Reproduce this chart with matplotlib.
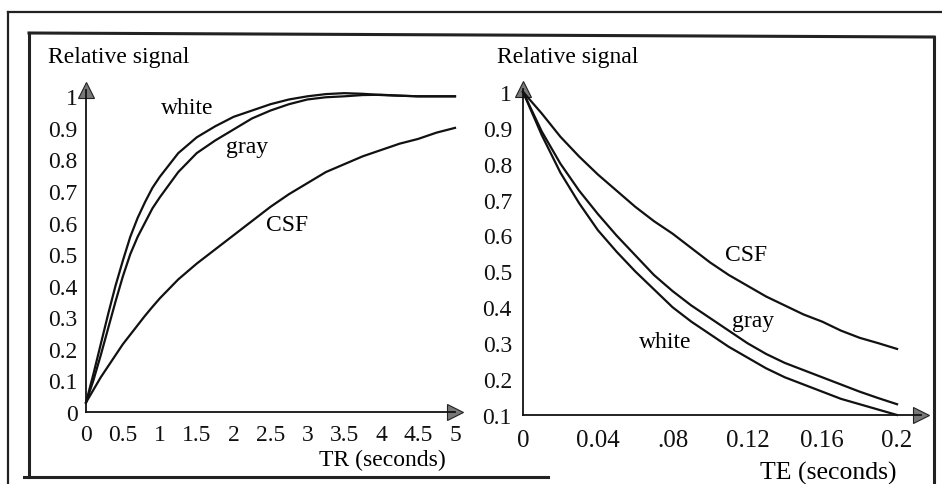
import numpy as np
import matplotlib
matplotlib.use('Agg')
import matplotlib.pyplot as plt
from matplotlib.lines import Line2D

plt.rcParams['font.family'] = ['Liberation Serif', 'DejaVu Serif']

# T1 recovery (left panel)
tr = [0, 0.1, 0.2, 0.3, 0.4, 0.5, 0.6, 0.7, 0.8, 0.9, 1.0,
      1.25, 1.5, 1.75, 2.0, 2.25, 2.5, 2.75, 3.0, 3.25, 3.5, 3.75, 4.0, 4.25, 4.5, 4.75, 5.0]
t1_white = [0.03, 0.12, 0.215, 0.31, 0.40, 0.48, 0.555, 0.615, 0.665, 0.71, 0.745,
            0.82, 0.87, 0.905, 0.935, 0.955, 0.975, 0.99, 1.0, 1.007, 1.01, 1.008, 1.004, 1.002, 1.0, 1.0, 1.0]
t1_gray = [0.03, 0.10, 0.18, 0.265, 0.35, 0.43, 0.50, 0.555, 0.60, 0.645, 0.68,
           0.76, 0.82, 0.86, 0.895, 0.93, 0.955, 0.975, 0.99, 0.997, 1.0, 1.004, 1.005, 1.002, 1.0, 1.0, 1.0]
t1_csf = [0.03, 0.07, 0.11, 0.145, 0.18, 0.215, 0.245, 0.275, 0.305, 0.333, 0.36,
          0.42, 0.47, 0.515, 0.56, 0.605, 0.65, 0.69, 0.725, 0.76, 0.785, 0.81, 0.83, 0.85, 0.865, 0.885, 0.90]

# T2 decay (right panel)
te = [0, 0.01, 0.02, 0.03, 0.04, 0.05, 0.06, 0.07, 0.08, 0.09, 0.10,
      0.11, 0.12, 0.13, 0.14, 0.15, 0.16, 0.17, 0.18, 0.19, 0.20]
t2_white = [1.0, 0.88, 0.775, 0.69, 0.615, 0.555, 0.50, 0.45, 0.40, 0.36, 0.325,
            0.29, 0.26, 0.23, 0.205, 0.185, 0.165, 0.145, 0.13, 0.115, 0.10]
t2_gray = [1.0, 0.89, 0.80, 0.725, 0.66, 0.60, 0.545, 0.49, 0.445, 0.405, 0.37,
           0.335, 0.30, 0.27, 0.245, 0.225, 0.205, 0.185, 0.165, 0.147, 0.13]
t2_csf = [1.0, 0.94, 0.875, 0.82, 0.77, 0.725, 0.68, 0.64, 0.605, 0.565, 0.525,
          0.49, 0.46, 0.43, 0.405, 0.38, 0.36, 0.335, 0.315, 0.30, 0.284]

tr_ticks = [0, 0.5, 1, 1.5, 2, 2.5, 3, 3.5, 4, 4.5, 5]
tr_labels = ['0', '0.5', '1', '1.5', '2', '2.5', '3', '3.5', '4', '4.5', '5']
y1_ticks = [0, 0.1, 0.2, 0.3, 0.4, 0.5, 0.6, 0.7, 0.8, 0.9, 1]
y1_labels = ['0', '0.1', '0.2', '0.3', '0.4', '0.5', '0.6', '0.7', '0.8', '0.9', '1']
te_ticks = [0, 0.04, 0.08, 0.12, 0.16, 0.2]
te_labels = ['0', '0.04', '.08', '0.12', '0.16', '0.2']
y2_ticks = [0.1, 0.2, 0.3, 0.4, 0.5, 0.6, 0.7, 0.8, 0.9, 1]
y2_labels = ['0.1', '0.2', '0.3', '0.4', '0.5', '0.6', '0.7', '0.8', '0.9', '1']

W, H = 942, 485
fig = plt.figure(figsize=(W / 100, H / 100), dpi=100)


def px(x, y):
    # pixel (from top-left) -> figure fraction
    return x / W, 1 - y / H


def box(left, top, right, bottom):
    return [left / W, 1 - bottom / H, (right - left) / W, (bottom - top) / H]


def style_axes(ax):
    for s in ['top', 'right']:
        ax.spines[s].set_visible(False)
    for s in ['left', 'bottom']:
        ax.spines[s].set_linewidth(1.3)
        ax.spines[s].set_color('#111')
    ax.plot(1, 0, '>', ms=12, mfc='#777', mec='#222', mew=0.8,
            transform=ax.transAxes, clip_on=False)
    ax.plot(0, 1, '^', ms=12, mfc='#777', mec='#222', mew=0.8,
            transform=ax.transAxes, clip_on=False)
    ax.tick_params(length=0, labelsize=17, colors='#111')


# left panel
ax1 = fig.add_axes(box(86, 91, 455, 413))
style_axes(ax1)
ax1.set_xlim(0, 5.0)
ax1.set_ylim(0, 1.02)
for yv in [t1_white, t1_gray, t1_csf]:
    ax1.plot(tr, yv, color='#111', lw=1.6, clip_on=False)
ax1.set_xticks(tr_ticks)
ax1.set_xticklabels(tr_labels)
ax1.set_yticks(y1_ticks)
ax1.set_yticklabels(y1_labels)
ax1.tick_params(axis='x', pad=9)
ax1.tick_params(axis='y', pad=6)
ax1.text(1.37, 0.965, 'white', fontsize=17, ha='center', va='center')
ax1.text(2.18, 0.84, 'gray', fontsize=17, ha='center', va='center')
ax1.text(2.72, 0.595, 'CSF', fontsize=17, ha='center', va='center')

# right panel
ax2 = fig.add_axes(box(523, 90, 921, 416))
style_axes(ax2)
ax2.set_xlim(0, 0.2128)
ax2.set_ylim(0.1, 1.008)
for yv in [t2_white, t2_gray, t2_csf]:
    ax2.plot(te, yv, color='#111', lw=1.6, clip_on=False)
ax2.set_xticks(te_ticks)
ax2.set_xticklabels(te_labels)
ax2.set_yticks(y2_ticks)
ax2.set_yticklabels(y2_labels)
ax2.tick_params(axis='x', pad=10, labelsize=18)
ax2.tick_params(axis='y', pad=8)
ax2.text(0.119, 0.548, 'CSF', fontsize=17, ha='center', va='center')
ax2.text(0.123, 0.362, 'gray', fontsize=17, ha='center', va='center')
ax2.text(0.076, 0.306, 'white', fontsize=17, ha='center', va='center')

# axis titles
fig.text(*px(48, 57), 'Relative signal', fontsize=17, ha='left', va='center')
fig.text(*px(497, 57), 'Relative signal', fontsize=17, ha='left', va='center')
fig.text(*px(382, 460), 'TR (seconds)', fontsize=17, ha='center', va='center')
fig.text(*px(828, 473), 'TE (seconds)', fontsize=18.5, ha='center', va='center')

# scanned frame lines
frame = [
    ((8, 13), (942, 13), 1.6),
    ((8, 13), (8, 485), 1.6),
    ((29, 34), (934, 38), 2.2),
    ((29, 34), (29, 478), 2.2),
    ((24, 478), (548, 478), 2.2),
    ((934, 38), (934, 485), 2.2),
]
for (x0, y0), (x1, y1), lw in frame:
    a, b = px(x0, y0)
    c, d = px(x1, y1)
    fig.add_artist(Line2D([a, c], [b, d], transform=fig.transFigure,
                          color='#222', lw=lw))

fig.savefig('out.png', dpi=100)
